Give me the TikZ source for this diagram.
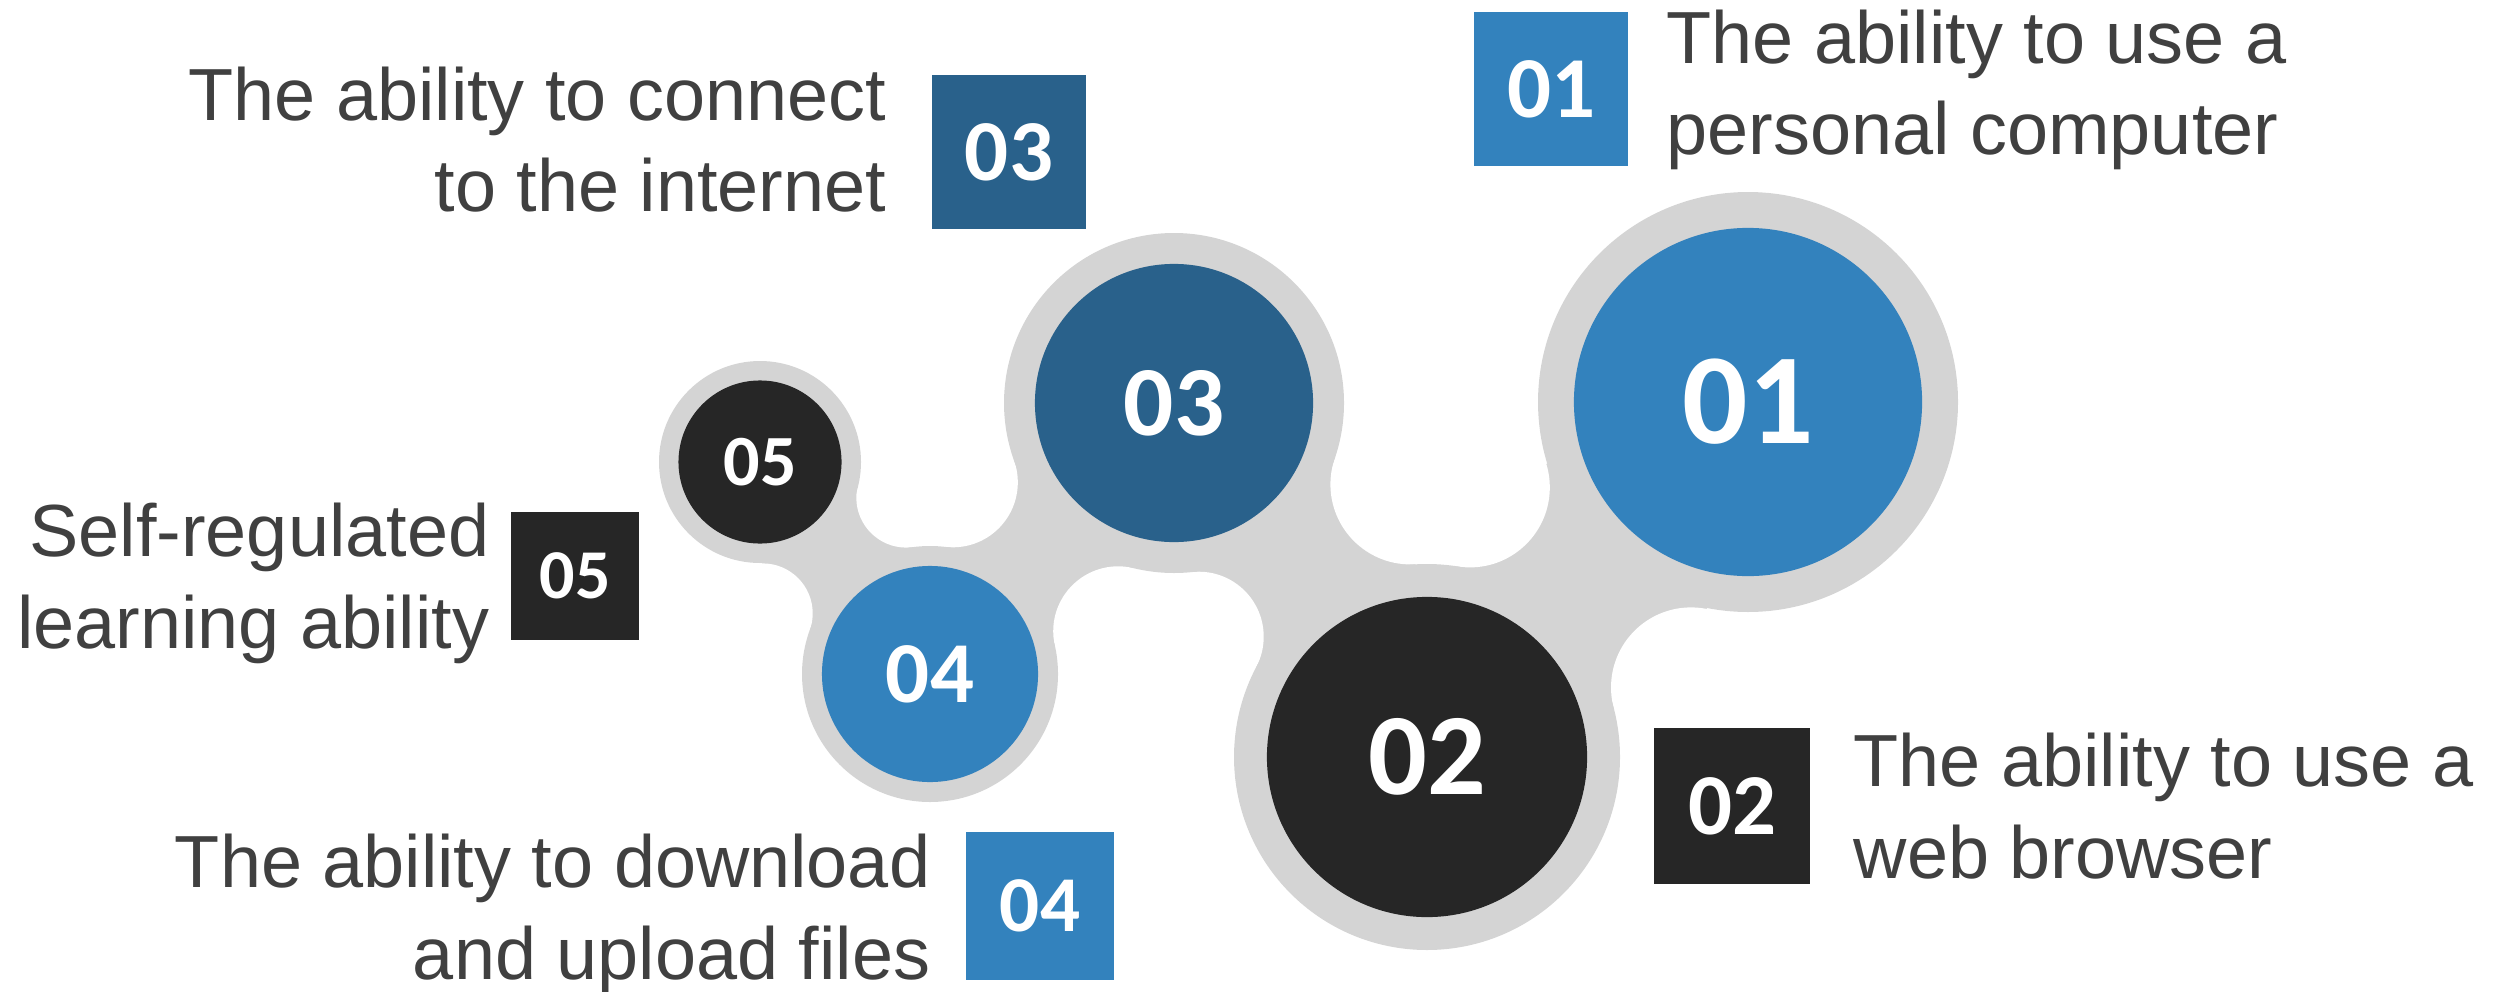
\documentclass[tikz,border=0pt]{standalone}
\usepackage{fontspec}
\setmainfont{Liberation Sans}
\newfontfamily\numfont{Carlito}
\definecolor{lightblue}{HTML}{3382BD}
\definecolor{darkblue}{HTML}{29618B}
\definecolor{nearblack}{HTML}{262626}
\definecolor{ringgray}{HTML}{D4D4D4}
\definecolor{textgray}{HTML}{404040}
\tikzset{
  disc/.style={circle,inner sep=0pt,text=white},
  tag/.style={rectangle,inner sep=0pt,text=white},
  txt/.style={inner sep=0pt,text=textgray,font=\fontsize{21pt}{25.9pt}\selectfont}
}
\begin{document}
\begin{tikzpicture}[x=0.01cm,y=-0.01cm]
	\useasboundingbox (0,0) rectangle (2501,991);
	\coordinate (c1) at (1748,402);
	\coordinate (c2) at (1427,757);
	\coordinate (c3) at (1174,403);
	\coordinate (c4) at (930,674);
	\coordinate (c5) at (760,462);
	% hollows between the discs
	\coordinate (h54a) at (906.3,497.6); \coordinate (h54b) at (762.7,613.4);
	\coordinate (h43a) at (952.8,482.3); \coordinate (h43b) at (1118.2,631.3);
	\coordinate (h32a) at (1410.4,484.4); \coordinate (h32b) at (1198.7,636.7);
	\coordinate (h21a) at (1469.8,487.4); \coordinate (h21b) at (1691.0,687.4);
	\foreach \a/\b/\p/\q in {c5/c4/h54a/h54b,c4/c3/h43a/h43b,c3/c2/h32a/h32b,c2/c1/h21a/h21b}
		\fill[ringgray] (\a) -- (\p) -- (\b) -- (\q) -- cycle;
	\foreach \h/\r in {h54a/50,h54b/50,h43a/65,h43b/65,h32a/80,h32b/65,h21a/80,h21b/80}
		\fill[white] (\h) circle (\r);
	\foreach \c/\r in {c1/210,c2/193,c3/170,c4/128,c5/101}
		\fill[ringgray] (\c) circle (\r);
	\node[disc,fill=lightblue,minimum size=3.48cm,font=\numfont\bfseries\fontsize{36.7pt}{40pt}\selectfont] (d01) at (c1) {01};
	\node[disc,fill=nearblack,minimum size=3.2cm,font=\numfont\bfseries\fontsize{33pt}{36pt}\selectfont] (d02) at (c2) {02};
	\node[disc,fill=darkblue,minimum size=2.78cm,font=\numfont\bfseries\fontsize{28.2pt}{31pt}\selectfont] (d03) at (c3) {03};
	\node[disc,fill=lightblue,minimum size=2.16cm,font=\numfont\bfseries\fontsize{24.7pt}{27pt}\selectfont] (d04) at (c4) {04};
	\node[disc,fill=nearblack,minimum size=1.63cm,font=\numfont\bfseries\fontsize{20.5pt}{23pt}\selectfont] (d05) at (c5) {05};
	\node[tag,fill=lightblue,minimum size=1.54cm,font=\numfont\bfseries\fontsize{24.7pt}{27pt}\selectfont] (t01) at (1551,89) {01};
	\node[tag,fill=nearblack,minimum size=1.55cm,font=\numfont\bfseries\fontsize{24.7pt}{27pt}\selectfont] (t02) at (1732,806) {02};
	\node[tag,fill=darkblue,minimum size=1.53cm,font=\numfont\bfseries\fontsize{24.7pt}{27pt}\selectfont] (t03) at (1009,152) {03};
	\node[tag,fill=lightblue,minimum size=1.47cm,font=\numfont\bfseries\fontsize{22.5pt}{25pt}\selectfont] (t04) at (1040,906) {04};
	\node[tag,fill=nearblack,minimum size=1.27cm,font=\numfont\bfseries\fontsize{19.9pt}{22pt}\selectfont] (t05) at (575,576) {05};
	\node[txt,align=left,anchor=base west] (l01) at (1666,155) {The ability to use a\\personal computer};
	\node[txt,align=left,anchor=base west] (l02) at (1853,878) {The ability to use a\\web browser};
	\node[txt,align=right,anchor=base east] (l03) at (887,212) {The ability to connect\\to the internet};
	\node[txt,align=right,anchor=base east] (l04) at (931,979) {The ability to download\\and upload files};
	\node[txt,align=right,anchor=base east] (l05) at (490,648) {Self-regulated\\learning ability};
\end{tikzpicture}
\end{document}
